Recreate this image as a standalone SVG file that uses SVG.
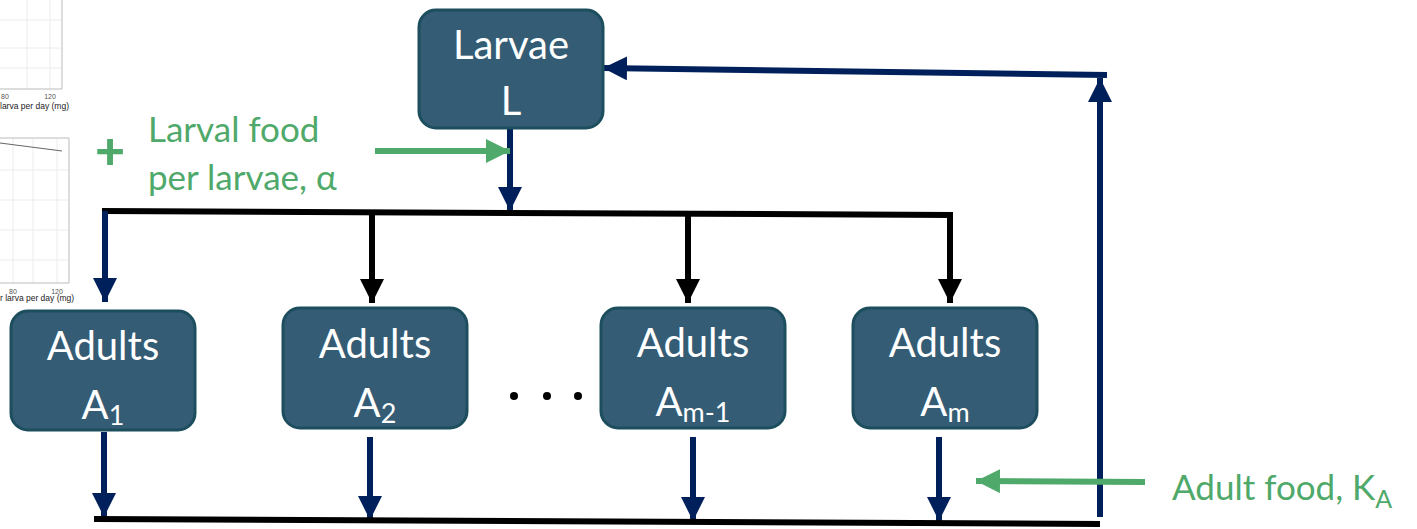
<svg xmlns="http://www.w3.org/2000/svg" width="1417" height="529" viewBox="0 0 1417 529">
<style>
.box{fill:#345C75;stroke:#1C4E5E;stroke-width:3}
.t{font-family:Lato,"Noto Sans",sans-serif;fill:#fff;font-size:40px;text-anchor:middle}
.sub{font-size:27px}
.g{font-family:Lato,"Noto Sans",sans-serif;fill:#4FA96A;font-size:35px}
.navy{stroke:#00205B;stroke-width:6;fill:none}
.blk{stroke:#000;stroke-width:6;fill:none}
.grn{stroke:#4FA96A;stroke-width:6;fill:none}
.ct{font-family:"Liberation Sans",Arial,sans-serif;font-size:7px;fill:#555}
.cl{font-family:"Liberation Sans",Arial,sans-serif;font-size:8.5px;fill:#222}
</style>
<defs>
<marker id="hn" viewBox="0 0 10 10" refX="10" refY="5" markerWidth="4" markerHeight="4" orient="auto" markerUnits="strokeWidth"><path d="M0,0L10,5L0,10z" fill="#00205B"/></marker>
<marker id="hb" viewBox="0 0 10 10" refX="10" refY="5" markerWidth="4" markerHeight="4" orient="auto" markerUnits="strokeWidth"><path d="M0,0L10,5L0,10z" fill="#000"/></marker>
<marker id="hg" viewBox="0 0 10 10" refX="10" refY="5" markerWidth="4" markerHeight="4" orient="auto" markerUnits="strokeWidth"><path d="M0,0L10,5L0,10z" fill="#4FA96A"/></marker>
</defs>
<g id="charts">
<g stroke="#ececec" stroke-width="1">
<line x1="0" y1="20" x2="62" y2="20"/><line x1="0" y1="48" x2="62" y2="48"/><line x1="0" y1="68" x2="62" y2="68"/>
<line x1="27" y1="0" x2="27" y2="89"/><line x1="50" y1="0" x2="50" y2="89"/>
<line x1="0" y1="170" x2="69" y2="170"/><line x1="0" y1="200" x2="69" y2="200"/><line x1="0" y1="230" x2="69" y2="230"/><line x1="0" y1="260" x2="69" y2="260"/>
<line x1="13" y1="138" x2="13" y2="283"/><line x1="33" y1="138" x2="33" y2="283"/><line x1="57" y1="138" x2="57" y2="283"/>
</g>
<path d="M0,89H62V0" fill="none" stroke="#bbb" stroke-width="1"/>
<path d="M0,138H69V283H0" fill="none" stroke="#bbb" stroke-width="1"/>
<path d="M0,143L62,151" fill="none" stroke="#666" stroke-width="1"/>
<text class="ct" x="5" y="99" text-anchor="middle">80</text>
<text class="ct" x="50" y="99" text-anchor="middle">120</text>
<text class="cl" x="0" y="109">larva per day (mg)</text>
<text class="ct" x="13" y="294" text-anchor="middle">80</text>
<text class="ct" x="57" y="294" text-anchor="middle">120</text>
<text class="cl" x="0" y="301">r larva per day (mg)</text>
</g>
<g id="connectors">
<line class="navy" x1="510" y1="128" x2="510" y2="211" marker-end="url(#hn)"/>
<line class="grn" x1="375" y1="151" x2="510" y2="151" marker-end="url(#hg)"/>
<path class="blk" d="M102,211L953,215"/>
<line class="navy" x1="105" y1="211" x2="105" y2="302" marker-end="url(#hn)"/>
<line class="blk" x1="372" y1="212" x2="372" y2="303" marker-end="url(#hb)"/>
<line class="blk" x1="688" y1="213" x2="688" y2="303" marker-end="url(#hb)"/>
<line class="blk" x1="950" y1="214" x2="950" y2="303" marker-end="url(#hb)"/>
<line class="navy" x1="104" y1="432" x2="104" y2="517" marker-end="url(#hn)"/>
<line class="navy" x1="370" y1="437" x2="370" y2="520" marker-end="url(#hn)"/>
<line class="navy" x1="693" y1="437" x2="693" y2="521" marker-end="url(#hn)"/>
<line class="navy" x1="939" y1="437" x2="939" y2="521" marker-end="url(#hn)"/>
<path class="blk" d="M94,519L1100,524"/>
<line class="navy" x1="1100" y1="517" x2="1100" y2="78" marker-end="url(#hn)"/>
<path class="navy" d="M1107,75L603,68" marker-end="url(#hn)"/>
<line class="grn" x1="1145" y1="482" x2="976" y2="481" marker-end="url(#hg)"/>
</g>
<g id="larvae">
<rect class="box" x="419" y="10" width="184" height="118" rx="17"/>
<text class="t" x="511" y="59">Larvae</text>
<text class="t" x="511" y="115">L</text>
</g>
<g id="a1">
<rect class="box" x="11" y="311" width="184" height="119" rx="17"/>
<text class="t" x="103" y="360">Adults</text>
<text class="t" x="103" y="419">A<tspan class="sub" dy="6">1</tspan></text>
</g>
<g id="a2">
<rect class="box" x="283" y="308" width="184" height="120" rx="17"/>
<text class="t" x="375" y="358">Adults</text>
<text class="t" x="375" y="417">A<tspan class="sub" dy="6">2</tspan></text>
</g>
<g id="dots" fill="#000">
<circle cx="514" cy="396" r="4"/><circle cx="547" cy="396" r="4"/><circle cx="578" cy="396" r="4"/>
</g>
<g id="am1">
<rect class="box" x="601" y="308" width="184" height="120" rx="17"/>
<text class="t" x="693" y="357">Adults</text>
<text class="t" x="693" y="416">A<tspan class="sub" dy="6">m-1</tspan></text>
</g>
<g id="am">
<rect class="box" x="853" y="308" width="184" height="120" rx="17"/>
<text class="t" x="945" y="357">Adults</text>
<text class="t" x="945" y="416">A<tspan class="sub" dy="6">m</tspan></text>
</g>
<g id="larval-food">
<text class="g" x="110" y="169" text-anchor="middle" style="font-size:52px;font-weight:900">+</text>
<text class="g" x="148" y="142">Larval food</text>
<text class="g" x="148" y="190">per larvae, α</text>
</g>
<g id="adult-food">
<text class="g" x="1172" y="500">Adult food, K<tspan font-size="25" dy="8">A</tspan></text>
</g>
</svg>
